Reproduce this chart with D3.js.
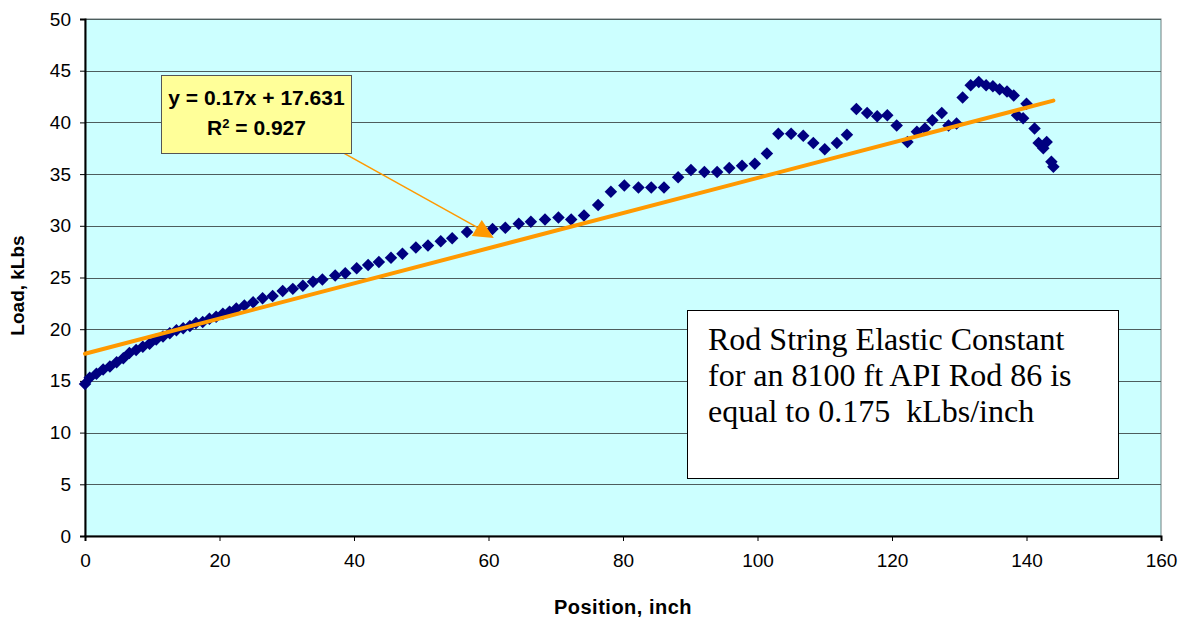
<!DOCTYPE html>
<html>
<head>
<meta charset="utf-8">
<script src="https://cdn.jsdelivr.net/npm/d3@7"></script>
<style>
  html, body { margin: 0; padding: 0; background: #ffffff; }
  svg { display: block; }
</style>
</head>
<body>
<svg id="chart" width="1186" height="623"></svg>
<script>
// Polished rod position (inch) and load (kLbs) measured over one stroke
const positions = [
  0, 0.7, 1.7, 2.7, 3.7, 4.7, 5.7, 6.6, 7.6, 8.6, 9.6, 10.6, 11.6, 12.6, 13.6,
  14.6, 15.6, 16.5, 17.5, 18.5, 19.5, 20.5, 21.5, 22.5, 23.7, 25.0, 26.4, 27.9,
  29.4, 30.9, 32.4, 33.9, 35.3, 37.2, 38.7, 40.4, 42.1, 43.7, 45.5, 47.2, 49.2,
  51.0, 52.9, 54.6, 56.8, 59.0, 60.6, 62.5, 64.5, 66.3, 68.4, 70.4, 72.3, 74.2,
  76.3, 78.2, 80.2, 82.3, 84.2, 86.1, 88.2, 90.1, 92.1, 94.0, 95.8, 97.7, 99.6,
  101.4, 103.1, 105.0, 106.8, 108.3, 110.0, 111.8, 113.3, 114.7, 116.3, 117.8,
  119.3, 120.7, 122.3, 123.7, 124.9, 126.0, 127.4, 128.4, 129.6, 130.5, 131.7,
  132.9, 134.0, 135.0, 136.0, 137.1, 138.1, 138.6, 139.5, 140.0, 141.2, 141.8,
  142.5, 143.0, 143.7, 144.0
];
const loads = [
  14.7, 15.3, 15.7, 16.1, 16.4, 16.8, 17.2, 17.7, 18.0, 18.3, 18.6, 19.0, 19.3,
  19.6, 19.9, 20.1, 20.3, 20.6, 20.7, 21.0, 21.2, 21.5, 21.7, 22.0, 22.3, 22.6,
  23.0, 23.2, 23.7, 23.9, 24.2, 24.6, 24.8, 25.2, 25.4, 25.9, 26.2, 26.5, 26.9,
  27.3, 27.9, 28.1, 28.5, 28.8, 29.4, 29.6, 29.7, 29.8, 30.2, 30.4, 30.6, 30.8,
  30.6, 31.0, 32.0, 33.3, 33.9, 33.7, 33.7, 33.7, 34.7, 35.4, 35.2, 35.2, 35.6,
  35.8, 36.0, 37.0, 38.9, 38.9, 38.7, 38.0, 37.4, 38.0, 38.8, 41.3, 40.9, 40.6,
  40.7, 39.7, 38.1, 39.1, 39.4, 40.2, 40.9, 39.7, 39.9, 42.4, 43.6, 43.9, 43.6,
  43.5, 43.2, 43.0, 42.6, 40.7, 40.4, 41.8, 39.4, 38.0, 37.5, 38.1, 36.2, 35.7
];

// Linear trend fitted by least squares
const trendSlope = 0.17;
const trendIntercept = 17.631;
const trendR2 = 0.927;
const trendRange = [0, 144];

const xTicks = [0, 20, 40, 60, 80, 100, 120, 140, 160];
const yTicks = [0, 5, 10, 15, 20, 25, 30, 35, 40, 45, 50];

const noteLines = [
  "Rod String Elastic Constant",
  "for an 8100 ft API Rod 86 is",
  "equal to 0.175  kLbs/inch"
];

// Callout arrow from the equation label to the trend (data units)
const calloutFrom = [35.8, 38.0];
const calloutTo = [59.0, 29.6];

const svg = d3.select("#chart");
const margin = { left: 85, right: 25, top: 19, bottom: 87 };
const W = 1186, H = 623;
const sans = "Arial, 'Liberation Sans', sans-serif";

const x = d3.scaleLinear().domain([0, 160]).range([margin.left, W - margin.right]);
const y = d3.scaleLinear().domain([0, 50]).range([H - margin.bottom, margin.top]);

// Plot background
svg.append("rect")
  .attr("x", x(0)).attr("y", y(50))
  .attr("width", x(160) - x(0)).attr("height", y(0) - y(50))
  .attr("fill", "#ccffff")
  .attr("stroke", "#6f7f7f").attr("stroke-width", 1);

// Horizontal gridlines
svg.append("g")
  .selectAll("line")
  .data(yTicks.filter(d => d > 0))
  .join("line")
  .attr("x1", x(0)).attr("x2", x(160))
  .attr("y1", d => Math.round(y(d)) + 0.5).attr("y2", d => Math.round(y(d)) + 0.5)
  .attr("stroke", "#4d5d5d").attr("stroke-width", 1);

// Axes
const xAxis = d3.axisBottom(x).tickValues(xTicks).tickSize(5).tickPadding(13)
  .tickFormat(d3.format("d"));
const yAxis = d3.axisLeft(y).tickValues(yTicks).tickSize(5).tickPadding(9)
  .tickFormat(d3.format("d"));

const gx = svg.append("g").attr("transform", `translate(0,${y(0)})`).call(xAxis);
const gy = svg.append("g").attr("transform", `translate(${x(0)},0)`).call(yAxis);

[gx, gy].forEach(g => {
  g.attr("font-size", 19).attr("font-family", sans);
  g.select(".domain").attr("stroke", "#000").attr("stroke-width", 2);
  g.selectAll(".tick line").attr("stroke", "#000").attr("stroke-width", 1);
  g.selectAll(".tick text").attr("fill", "#000");
});

// Axis titles
svg.append("text")
  .attr("x", (x(0) + x(160)) / 2).attr("y", 614)
  .attr("text-anchor", "middle")
  .style("font-family", sans)
  .style("font-size", "20px").style("font-weight", "bold")
  .style("letter-spacing", "0.5px")
  .text("Position, inch");

svg.append("text")
  .attr("transform", `translate(24,${(y(0) + y(50)) / 2 + 8}) rotate(-90)`)
  .attr("text-anchor", "middle")
  .style("font-family", sans)
  .style("font-size", "19px").style("font-weight", "bold")
  .text("Load, kLbs");

// Measured points as navy diamonds
const diamond = d3.symbol().type(d3.symbolSquare).size(78);
svg.append("g")
  .selectAll("path")
  .data(positions.map((p, i) => [p, loads[i]]))
  .join("path")
  .attr("d", diamond)
  .attr("transform", d => `translate(${x(d[0])},${y(d[1])}) rotate(45)`)
  .attr("fill", "#000080");

// Trend line
svg.append("line")
  .attr("x1", x(trendRange[0])).attr("y1", y(trendSlope * trendRange[0] + trendIntercept))
  .attr("x2", x(trendRange[1])).attr("y2", y(trendSlope * trendRange[1] + trendIntercept))
  .attr("stroke", "#ff9900").attr("stroke-width", 4).attr("stroke-linecap", "round");

// Callout arrow
const ax0 = x(calloutFrom[0]), ay0 = y(calloutFrom[1]);
const ax1 = x(calloutTo[0]), ay1 = y(calloutTo[1]);
svg.append("line")
  .attr("x1", ax0).attr("y1", ay0).attr("x2", ax1).attr("y2", ay1)
  .attr("stroke", "#ff9900").attr("stroke-width", 1.5);
svg.append("polygon")
  .attr("points", [[ax1, ay1 - 10], [ax1 - 10, ay1 + 6], [ax1 + 12, ay1 + 8]].map(p => p.join(",")).join(" "))
  .attr("fill", "#ff9900");

// Equation label
const eq = svg.append("g");
eq.append("rect")
  .attr("x", 161.5).attr("y", 75.5).attr("width", 190).attr("height", 78)
  .attr("fill", "#ffff99").attr("stroke", "#555555").attr("stroke-width", 1);
const eqText = eq.append("text")
  .attr("text-anchor", "middle")
  .style("font-family", sans)
  .style("font-size", "21px").style("font-weight", "bold");
eqText.append("tspan").attr("x", 256.5).attr("y", 105)
  .text(`y = ${trendSlope}x + ${trendIntercept}`);
const r2 = eqText.append("tspan").attr("x", 256.5).attr("y", 135);
r2.append("tspan").text("R");
r2.append("tspan").attr("dy", -7).style("font-size", "13px").text("2");
r2.append("tspan").attr("dy", 7).text(` = ${trendR2}`);

// Note box
const note = svg.append("g");
note.append("rect")
  .attr("x", 687.5).attr("y", 310.5).attr("width", 431).attr("height", 168)
  .attr("fill", "#ffffff").attr("stroke", "#000").attr("stroke-width", 1);
note.selectAll("text")
  .data(noteLines)
  .join("text")
  .attr("x", 708).attr("y", (d, i) => 350 + i * 36)
  .style("font-family", "'Times New Roman', 'Liberation Serif', serif")
  .style("font-size", "32px")
  .style("white-space", "pre")
  .attr("xml:space", "preserve")
  .attr("fill", "#000")
  .text(d => d);
</script>
</body>
</html>
